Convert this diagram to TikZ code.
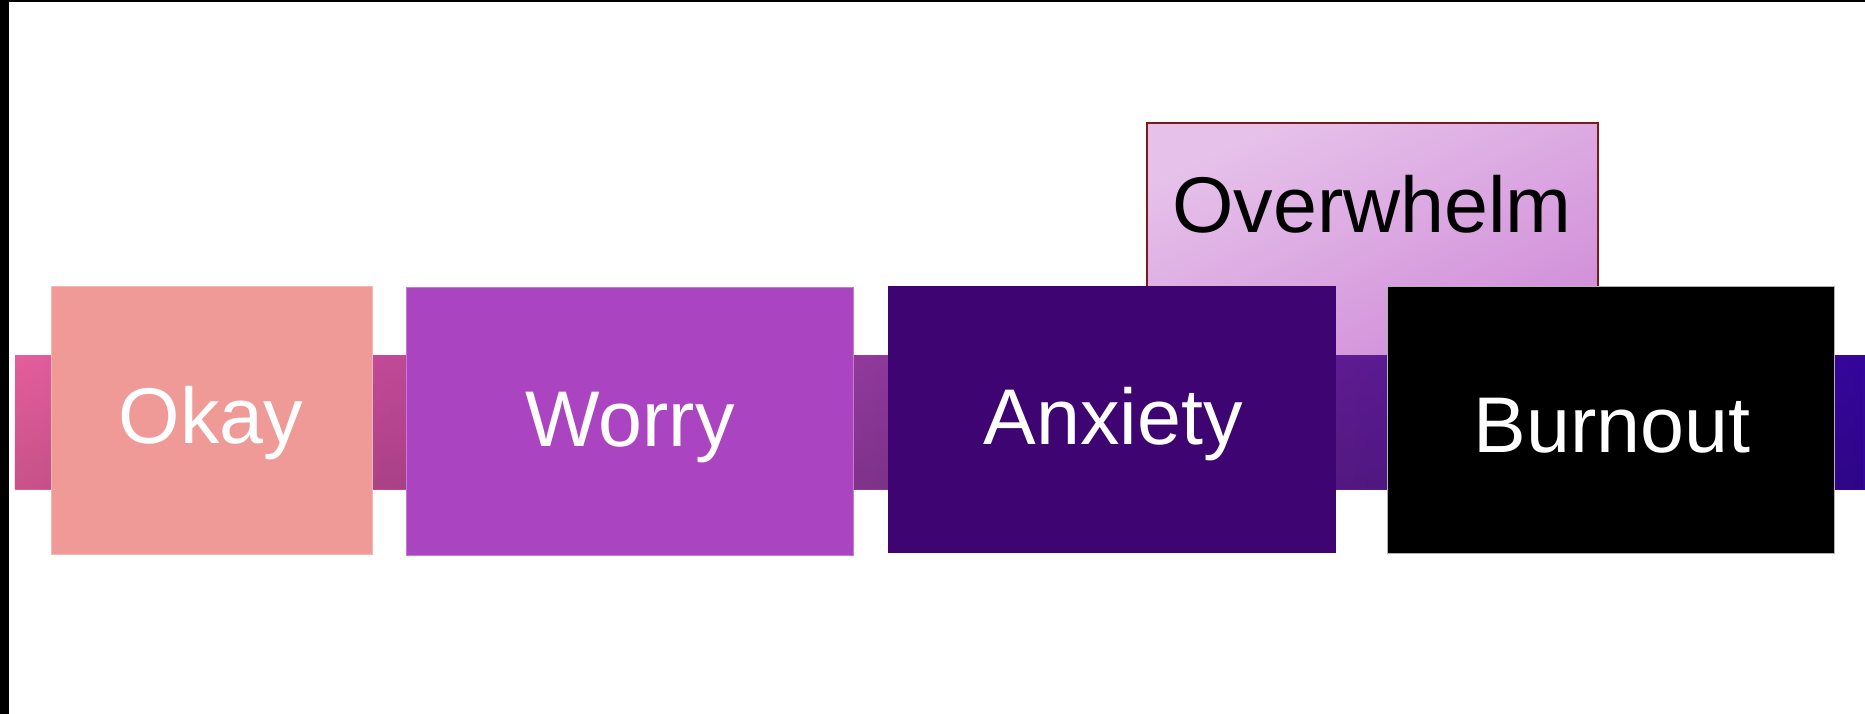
\documentclass[tikz,border=0pt]{standalone}
\usepackage{fontspec}
\setmainfont{Liberation Sans}
\usetikzlibrary{fadings}
\definecolor{okayc}{HTML}{F09A98}
\definecolor{worryc}{HTML}{AB44C0}
\definecolor{anxc}{HTML}{3E0572}
\definecolor{burnc}{HTML}{000000}
\definecolor{ovtop}{HTML}{E6C2EA}
\definecolor{ovbot}{HTML}{D08CD8}
\definecolor{ovborder}{HTML}{7A1C1C}
\definecolor{bandA}{HTML}{E45E9C}
\definecolor{bandB}{HTML}{C24A98}
\definecolor{bandC}{HTML}{903A9C}
\definecolor{bandD}{HTML}{5E1C92}
\definecolor{bandE}{HTML}{34069A}
\pgfdeclarehorizontalshading{bandshade}{100bp}{color(0bp)=(bandA); color(25bp)=(bandA); color(35bp)=(bandB); color(48bp)=(bandC); color(61bp)=(bandD); color(75bp)=(bandE); color(100bp)=(bandE)}
\tikzset{
  box/.style={rectangle, inner sep=0pt, outer sep=0pt, draw=none},
  lbl/.style={anchor=base, inner sep=0pt, font=\fontsize{79}{90}\selectfont},
}
\begin{document}
\begin{tikzpicture}[x=1pt,y=-1pt]
\useasboundingbox (0,0) rectangle (1865,714);
\fill[white] (0,0) rectangle (1865,714);
% frame strips
\fill[black] (0,0) rectangle (9,714);
\fill[black] (0,0) rectangle (1865,2);
% Overwhelm box (behind band)
\shade[top color=ovtop, bottom color=ovbot, shading angle=25, draw=ovborder, line width=2.4pt] (1147,123) rectangle (1598,370);
\node[lbl, text=black] (overT) at (1372,232) {Overwhelm};
% band
\shade[shading=bandshade] (15,355) rectangle (1865,489);
\fill[black, path fading=north, fill opacity=0.12] (15,355) rectangle (1865,489);
% boxes
\node[box, fill=okayc, draw=okayc!70!white, line width=1pt, minimum width=321pt, minimum height=268pt] (okay) at (211.5,420) {};
\node[box, fill=worryc, draw=worryc!70!white, line width=1pt, minimum width=447pt, minimum height=268pt] (worry) at (629.5,421) {};
\node[box, fill=anxc, minimum width=448pt, minimum height=267pt] (anx) at (1112,419.5) {};
\node[box, fill=burnc, draw=gray!60, line width=0.8pt, minimum width=447pt, minimum height=267pt] (burn) at (1610.5,419.5) {};
\node[lbl, text=white] (okayT) at (211,443) {Okay};
\node[lbl, text=white] (worryT) at (630,446) {Worry};
\node[lbl, text=white] (anxT) at (1113,444) {Anxiety};
\node[lbl, text=white] (burnT) at (1612,452) {Burnout};
\end{tikzpicture}
\end{document}
